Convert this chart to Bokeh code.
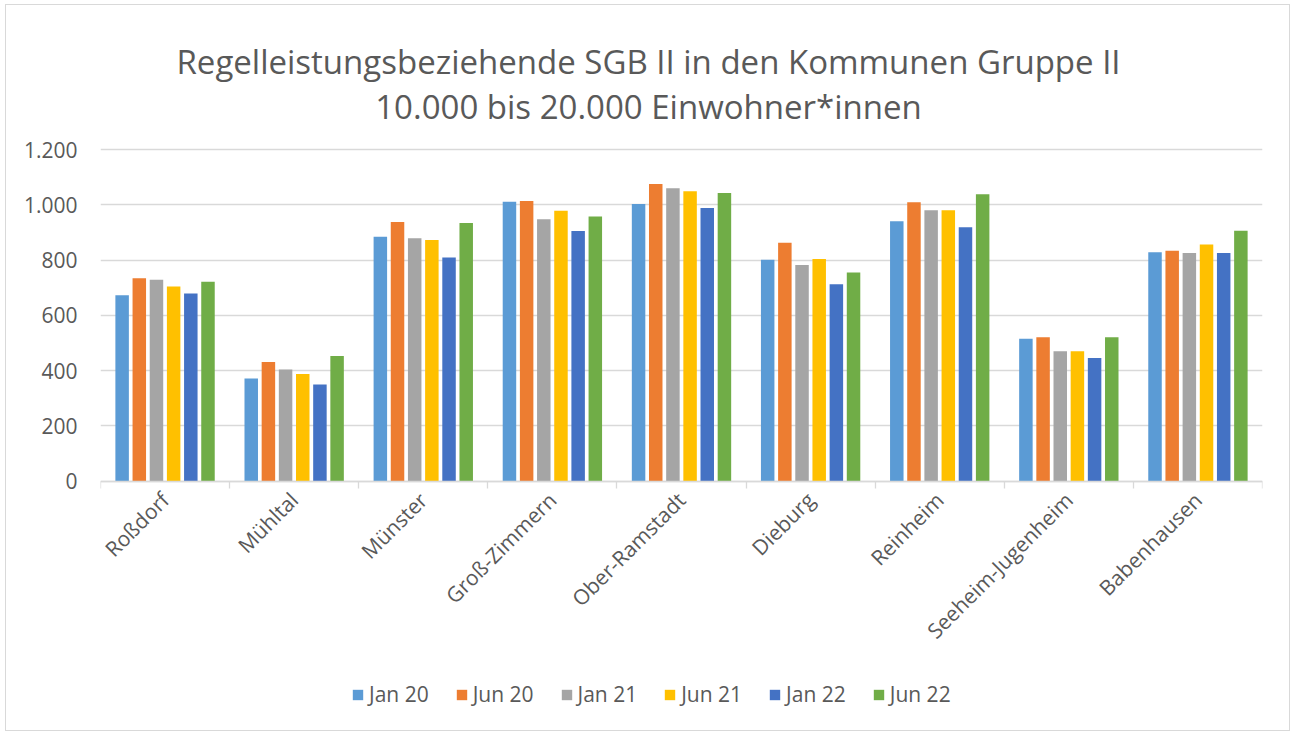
import math
from bokeh.plotting import figure
from bokeh.models import Range1d, FixedTicker, ColumnDataSource, Legend, LegendItem, Label
from bokeh.transform import dodge
from bokeh.embed import file_html
from bokeh.resources import INLINE

kommunen = ["Roßdorf", "Mühltal", "Münster", "Groß-Zimmern", "Ober-Ramstadt",
            "Dieburg", "Reinheim", "Seeheim-Jugenheim", "Babenhausen"]
series = ["Jan 20", "Jun 20", "Jan 21", "Jun 21", "Jan 22", "Jun 22"]
jan20 = [673, 372, 885, 1012, 1003, 802, 941, 516, 829]
jun20 = [735, 431, 938, 1014, 1076, 863, 1010, 521, 834]
jan21 = [729, 404, 879, 948, 1060, 783, 981, 470, 826]
jun21 = [705, 388, 873, 979, 1050, 804, 981, 470, 857]
jan22 = [679, 350, 810, 906, 989, 713, 919, 446, 826]
jun22 = [722, 453, 935, 958, 1043, 755, 1039, 521, 907]
y_ticks = [0, 200, 400, 600, 800, 1000, 1200]
y_tick_labels = ["0", "200", "400", "600", "800", "1.000", "1.200"]
title_line1 = "Regelleistungsbeziehende SGB II in den Kommunen Gruppe II"
title_line2 = "10.000 bis 20.000 Einwohner*innen"
colors = ["#5B9BD5", "#ED7D31", "#A5A5A5", "#FFC000", "#4472C4", "#70AD47"]

values = [jan20, jun20, jan21, jun21, jan22, jun22]
FONT = "Open Sans"
TXT = "#595959"
GRID = "#d9d9d9"

n = len(kommunen)
data = {"x": [i + 0.5 for i in range(n)], "name": kommunen}
for s, v in zip(series, values):
    data[s] = v
source = ColumnDataSource(data)

# ---- layout in page pixels ----
W, H = 1285, 727
MB_LEFT, MB_RIGHT, MB_TOP, MB_BOTTOM = 94, 29, 2, 2
FRAME_TOP, FRAME_BOTTOM = 7, 729          # page y of frame edges
Y_TOP_PX, Y_ZERO_PX = 149, 480            # page y of top tick and of zero
FRAME_LEFT, FRAME_RIGHT = 100, 1263
ppu = (Y_ZERO_PX - Y_TOP_PX) / y_ticks[-1]
y_end = y_ticks[-1] + (Y_TOP_PX - FRAME_TOP) / ppu
y_start = -(FRAME_BOTTOM - Y_ZERO_PX) / ppu
ppx = (FRAME_RIGHT - FRAME_LEFT) / n


def page_y(py):
    return (Y_ZERO_PX - py) / ppu


def page_x(px):
    return (px - FRAME_LEFT) / ppx


p = figure(width=W, height=H, output_backend="svg", toolbar_location=None,
           title=None, x_range=Range1d(0, n), y_range=Range1d(y_start, y_end),
           min_border_left=MB_LEFT, min_border_right=MB_RIGHT,
           min_border_top=MB_TOP, min_border_bottom=MB_BOTTOM)
p.outline_line_color = None
p.styles = {"border": "1px solid #d9d9d9", "box-sizing": "border-box",
            "margin-left": "5px", "margin-top": "4px"}

pitch = 0.133
bw = 0.1045
items = []
for k, s in enumerate(series):
    off = (k - (len(series) - 1) / 2) * pitch
    r = p.vbar(x=dodge("x", off, range=p.x_range), top=s, bottom=0, width=bw,
               source=source, fill_color=colors[k], line_color=None)
    items.append(LegendItem(label=s, renderers=[r]))

# y axis
p.yaxis.ticker = FixedTicker(ticks=y_ticks)
p.yaxis.major_label_overrides = {t: l for t, l in zip(y_ticks, y_tick_labels)}
p.yaxis.axis_line_color = None
p.yaxis.major_tick_line_color = None
p.yaxis.minor_tick_line_color = None
p.yaxis.major_label_text_font = FONT
p.yaxis.major_label_text_font_size = "21px"
p.yaxis.major_label_text_color = TXT
p.yaxis.major_label_standoff = 17
p.ygrid.ticker = FixedTicker(ticks=y_ticks)
p.ygrid.grid_line_color = GRID
p.ygrid.grid_line_width = 1.3
p.xgrid.grid_line_color = None

# x axis, drawn at value 0
centers = [i + 0.5 for i in range(n)]
p.xaxis.fixed_location = 0
p.xaxis.ticker = FixedTicker(ticks=centers, minor_ticks=list(range(n + 1)))
p.xaxis.major_label_overrides = {c: k for c, k in zip(centers, kommunen)}
p.xaxis.major_tick_line_color = None
p.xaxis.minor_tick_line_color = GRID
p.xaxis.minor_tick_line_width = 1.3
p.xaxis.minor_tick_in = 0
p.xaxis.minor_tick_out = 7
p.xaxis.axis_line_color = GRID
p.xaxis.axis_line_width = 1.3
p.xaxis.major_label_orientation = math.pi / 4
p.xaxis.major_label_text_font = FONT
p.xaxis.major_label_text_font_size = "21px"
p.xaxis.major_label_text_color = TXT
p.xaxis.major_label_standoff = 8

# title, two centred lines
for txt, base in ((title_line1, 61), (title_line2, 106)):
    p.add_layout(Label(x=page_x(648.5), y=page_y(base), text=txt,
                       text_align="center", text_baseline="alphabetic",
                       text_font=FONT, text_font_size="33px", text_color=TXT))

legend = Legend(items=items, orientation="horizontal", location=(251, 22),
                glyph_width=13, glyph_height=13, label_standoff=5, spacing=26,
                padding=0, margin=0, border_line_color=None,
                background_fill_alpha=0, label_text_font=FONT,
                label_text_font_size="21px", label_text_color=TXT)
p.add_layout(legend, "center")

open("out.html", "w").write(file_html(p, INLINE))
